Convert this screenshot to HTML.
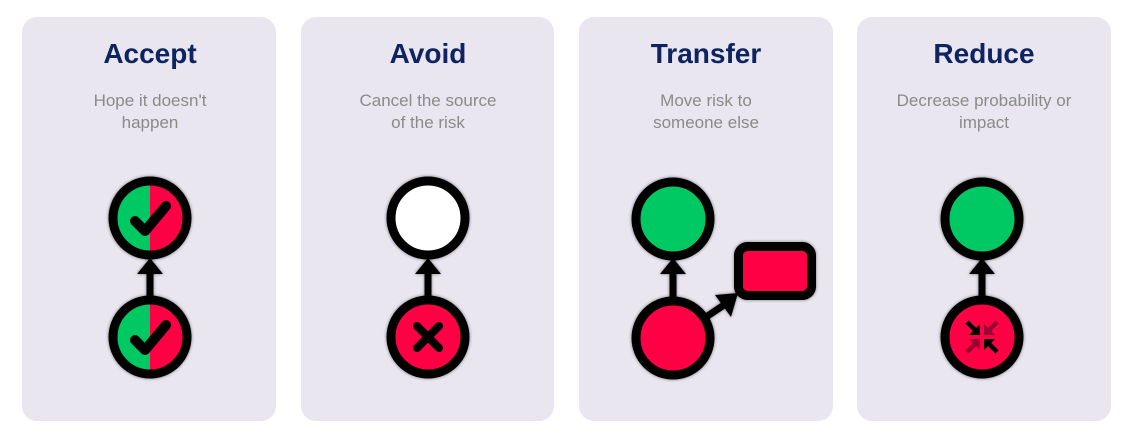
<!DOCTYPE html>
<html><head><meta charset="utf-8"><style>
html,body{margin:0;padding:0;background:#fff;width:1125px;height:434px;overflow:hidden}
svg{display:block}
.t{font-family:"Liberation Sans",sans-serif;font-weight:bold;font-size:28px;fill:#0d2461;text-anchor:middle}
.s{font-family:"Liberation Sans",sans-serif;font-size:17px;fill:#8a8a8a;text-anchor:middle}
</style></head><body>
<svg width="1125" height="434" viewBox="0 0 1125 434">
<defs>
<filter id="sh" x="-20%" y="-20%" width="140%" height="140%"><feGaussianBlur in="SourceAlpha" stdDeviation="1.5"/><feComponentTransfer><feFuncA type="linear" slope="0.5"/></feComponentTransfer><feMerge><feMergeNode/><feMergeNode in="SourceGraphic"/></feMerge></filter>
<clipPath id="lh"><rect x="-50" y="-50" width="50" height="100"/></clipPath>
<g id="chk">
 <circle r="37" fill="#ff0045"/>
 <circle r="37" fill="#00c864" clip-path="url(#lh)"/>
 <circle r="37" fill="none" stroke="#000" stroke-width="9"/>
 <path d="M-15,3 L-5,13 L16,-12" fill="none" stroke="#000" stroke-width="10" stroke-linecap="round" stroke-linejoin="round"/>
</g>
<g id="up">
 <rect x="-3.5" y="-20" width="7" height="30" fill="#000"/>
 <polygon points="0,-34 -13,-18 13,-18" fill="#000"/>
</g>
</defs>
<rect x="22" y="17" width="254" height="404" rx="15" fill="#e9e6f0"/>
<rect x="301" y="17" width="253" height="404" rx="15" fill="#e9e6f0"/>
<rect x="579" y="17" width="254" height="404" rx="15" fill="#e9e6f0"/>
<rect x="857" y="17" width="254" height="404" rx="15" fill="#e9e6f0"/>

<text class="t" x="150" y="63">Accept</text>
<text class="s" x="150" y="106">Hope it doesn't</text>
<text class="s" x="150" y="128">happen</text>
<text class="t" x="428" y="63">Avoid</text>
<text class="s" x="428" y="106">Cancel the source</text>
<text class="s" x="428" y="128">of the risk</text>
<text class="t" x="706" y="63">Transfer</text>
<text class="s" x="706" y="106">Move risk to</text>
<text class="s" x="706" y="128">someone else</text>
<text class="t" x="984" y="63">Reduce</text>
<text class="s" x="984" y="106">Decrease probability or</text>
<text class="s" x="984" y="128">impact</text>

<g filter="url(#sh)">
<use href="#up" x="150" y="292"/>
<use href="#chk" x="150" y="218"/>
<use href="#chk" x="150" y="337"/>
<use href="#up" x="428" y="292"/>
<circle cx="428" cy="218" r="37" fill="#fff" stroke="#000" stroke-width="9"/>
<circle cx="428" cy="337" r="37" fill="#ff0045" stroke="#000" stroke-width="9"/>
<path d="M417,326 L439,348 M439,326 L417,348" stroke="#000" stroke-width="8" stroke-linecap="round"/>
<use href="#up" x="673" y="292"/>
<circle cx="673" cy="219" r="37" fill="#00c864" stroke="#000" stroke-width="9"/>
<circle cx="673" cy="338" r="37" fill="#ff0045" stroke="#000" stroke-width="9"/>
<line x1="706" y1="317" x2="724" y2="305" stroke="#000" stroke-width="7"/>
<polygon points="738,293 715,295 731,317" fill="#000"/>
<rect x="738.5" y="246.5" width="73" height="49" rx="9" fill="#ff0045" stroke="#000" stroke-width="9"/>
<use href="#up" x="982" y="292"/>
<circle cx="982" cy="219" r="37" fill="#00c864" stroke="#000" stroke-width="9"/>
<circle cx="982" cy="337" r="37" fill="#ff0045" stroke="#000" stroke-width="9"/>
<g stroke-width="4.5">
 <line x1="967" y1="322" x2="976" y2="331" stroke="#000"/><polygon points="980,335 980,324 969,335" fill="#000"/>
 <line x1="997" y1="322" x2="988" y2="331" stroke="#9a0030"/><polygon points="984,335 984,324 995,335" fill="#9a0030"/>
 <line x1="967" y1="352" x2="976" y2="343" stroke="#9a0030"/><polygon points="980,339 980,350 969,339" fill="#9a0030"/>
 <line x1="997" y1="352" x2="988" y2="343" stroke="#000"/><polygon points="984,339 984,350 995,339" fill="#000"/>
</g>
</g>
</svg>
</body></html>
